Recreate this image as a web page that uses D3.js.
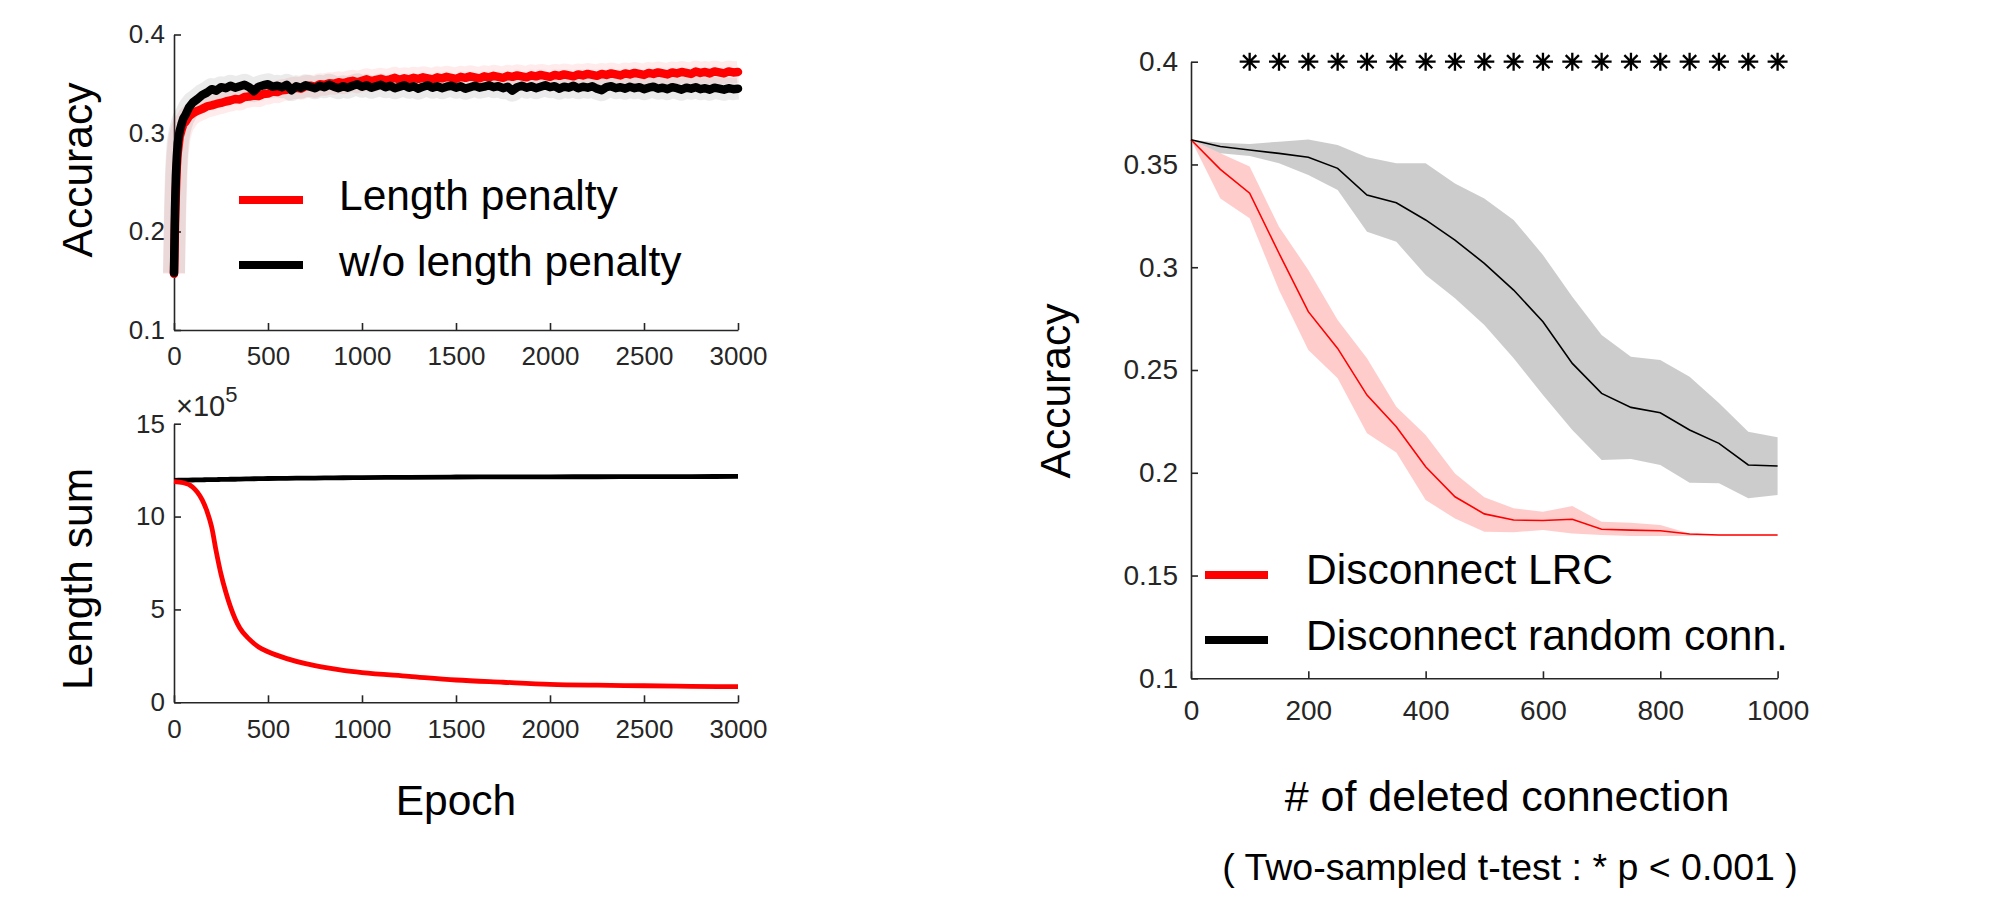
<!DOCTYPE html>
<html><head><meta charset="utf-8">
<script src="https://cdn.jsdelivr.net/npm/d3@7"></script>
<style>
body{margin:0;background:#fff}
text{font-family:"Liberation Sans",Arial,Helvetica,sans-serif}
</style>
</head><body>
<svg id="c" width="1996" height="900"></svg>
<script>
// ---------- Panel A (top-left): training accuracy ----------
const trainEpochs = [0,5,10,15,20,30,40,50,60,80,100,
 125,150,175,200,225,250,275,300,325,350,375,400,425,450,475,500,
 525,550,575,600,625,650,675,700,725,750,775,800,825,850,875,900,925,950,975,1000,
 1025,1050,1075,1100,1125,1150,1175,1200,1225,1250,1275,1300,1325,1350,1375,1400,1425,1450,1475,1500,
 1525,1550,1575,1600,1625,1650,1675,1700,1725,1750,1775,1800,1825,1850,1875,1900,1925,1950,1975,2000,
 2025,2050,2075,2100,2125,2150,2175,2200,2225,2250,2275,2300,2325,2350,2375,2400,2425,2450,2475,2500,
 2525,2550,2575,2600,2625,2650,2675,2700,2725,2750,2775,2800,2825,2850,2875,2900,2925,2950,2975,3000];
const accLengthPenalty = [0.157,0.205,0.240,0.266,0.280,0.296,0.303,0.309,0.311,0.317,0.320,
 0.3225,0.3245,0.3270,0.3280,0.3295,0.3305,0.3320,0.3330,0.3345,0.3340,0.3365,0.3370,0.3380,0.3375,0.3395,0.3400,
 0.3420,0.3415,0.3435,0.3440,0.3455,0.3460,0.3450,0.3475,0.3480,0.3470,0.3495,0.3490,0.3505,0.3500,0.3515,0.3505,0.3520,0.3530,0.3515,0.3530,
 0.3545,0.3525,0.3540,0.3550,0.3535,0.3545,0.3560,0.3540,0.3555,0.3545,0.3560,0.3550,0.3565,0.3555,0.3545,0.3565,0.3555,0.3570,0.3560,0.3550,
 0.3570,0.3560,0.3575,0.3565,0.3555,0.3575,0.3565,0.3580,0.3570,0.3560,0.3580,0.3570,0.3585,0.3575,0.3565,0.3585,0.3575,0.3590,0.3580,0.3570,
 0.3590,0.3580,0.3595,0.3585,0.3575,0.3595,0.3585,0.3600,0.3590,0.3580,0.3600,0.3590,0.3605,0.3595,0.3585,0.3605,0.3595,0.3610,0.3600,0.3590,
 0.3610,0.3600,0.3615,0.3605,0.3595,0.3615,0.3605,0.3620,0.3610,0.3600,0.3625,0.3610,0.3620,0.3605,0.3625,0.3615,0.3605,0.3625,0.3615,0.3620];
const accNoPenalty = [0.158,0.220,0.256,0.276,0.290,0.302,0.309,0.315,0.318,0.326,0.331,
 0.3345,0.3385,0.3410,0.3445,0.3430,0.3465,0.3455,0.3480,0.3460,0.3475,0.3490,0.3465,0.3425,0.3470,0.3485,0.3495,
 0.3470,0.3480,0.3465,0.3490,0.3435,0.3475,0.3460,0.3485,0.3470,0.3455,0.3480,0.3465,0.3490,0.3470,0.3455,0.3475,0.3460,0.3480,0.3495,0.3470,
 0.3485,0.3460,0.3475,0.3490,0.3465,0.3480,0.3455,0.3470,0.3485,0.3460,0.3475,0.3450,0.3470,0.3485,0.3460,0.3475,0.3455,0.3470,0.3480,0.3460,
 0.3475,0.3450,0.3465,0.3480,0.3460,0.3470,0.3485,0.3465,0.3475,0.3455,0.3470,0.3430,0.3465,0.3480,0.3460,0.3475,0.3455,0.3470,0.3485,0.3465,
 0.3475,0.3450,0.3470,0.3460,0.3480,0.3455,0.3470,0.3460,0.3475,0.3450,0.3435,0.3465,0.3475,0.3455,0.3465,0.3450,0.3470,0.3455,0.3465,0.3445,
 0.3460,0.3470,0.3450,0.3460,0.3445,0.3465,0.3455,0.3440,0.3460,0.3450,0.3465,0.3445,0.3455,0.3440,0.3460,0.3450,0.3440,0.3455,0.3445,0.3450];
const epochTicks = [0,500,1000,1500,2000,2500,3000];
const accTicksA = [0.1,0.2,0.3,0.4];
const legendA = ["Length penalty","w/o length penalty"];

// ---------- Panel B (bottom-left): length sum (x10^5) ----------
const lenEpochs = [0,50,100,125,150,175,200,225,250,275,300,325,350,400,450,500,600,700,800,900,1000,1250,1500,1750,2000,2250,2500,2750,3000];
const lenSumPenalty = [11.88,11.82,11.58,11.30,10.90,10.30,9.45,8.10,6.90,5.95,5.15,4.50,4.00,3.40,2.98,2.72,2.35,2.08,1.88,1.72,1.60,1.40,1.20,1.08,0.97,0.92,0.89,0.86,0.84];
const lenSumNoPenalty = [11.95,11.96,11.97,11.975,11.98,11.985,11.99,11.99,12.00,12.00,12.01,12.01,12.02,12.03,12.04,12.05,12.06,12.07,12.08,12.09,12.10,12.11,12.13,12.135,12.14,12.145,12.15,12.155,12.16];
const lenTicks = [0,5,10,15];

// ---------- Panel C (right): accuracy vs deleted connections ----------
const deleted = [0,50,100,150,200,250,300,350,400,450,500,550,600,650,700,750,800,850,900,950,1000];
const lrcMean = [0.362,0.3476,0.336,0.3068,0.2784,0.2605,0.2378,0.2224,0.2029,0.1883,0.180,0.177,0.1768,0.1774,0.1725,0.1721,0.1718,0.1702,0.1697,0.1697,0.1697];
const lrcHi   = [0.362,0.3554,0.349,0.3197,0.2987,0.2743,0.2557,0.2321,0.2184,0.1997,0.1881,0.1827,0.181,0.1838,0.1762,0.1757,0.1746,0.1705,0.1699,0.1699,0.1699];
const lrcLo   = [0.362,0.3335,0.3238,0.2889,0.2597,0.246,0.2192,0.2098,0.1867,0.1778,0.1713,0.171,0.1722,0.1705,0.1697,0.1692,0.1692,0.1692,0.1695,0.1695,0.1695];
const rndMean = [0.362,0.3587,0.357,0.3554,0.3535,0.3481,0.3351,0.3314,0.323,0.3132,0.3019,0.2889,0.2735,0.2532,0.2386,0.2318,0.2292,0.2208,0.2143,0.2038,0.2033];
const rndHi   = [0.362,0.3606,0.360,0.3611,0.3622,0.3595,0.3535,0.3506,0.3506,0.3408,0.3335,0.323,0.306,0.2857,0.267,0.2565,0.2549,0.2467,0.234,0.220,0.2173];
const rndLo   = [0.362,0.3554,0.3541,0.3506,0.3449,0.3376,0.3173,0.3124,0.2962,0.2849,0.2719,0.2557,0.2378,0.2208,0.2062,0.2067,0.2038,0.1952,0.1949,0.1876,0.1892];
const sigDeleted = [100,150,200,250,300,350,400,450,500,550,600,650,700,750,800,850,900,950,1000];
const sigLevel = 0.4;
const delTicks = [0,200,400,600,800,1000];
const accTicksC = [0.1,0.15,0.2,0.25,0.3,0.35,0.4];
const legendC = ["Disconnect LRC","Disconnect random conn."];

// ---------- drawing ----------
const svg = d3.select("#c");
const AX = "#262626";
const FONT = "'Liberation Sans',Arial,Helvetica,sans-serif";

function styleAxis(g, fs){
  g.select(".domain").attr("stroke", AX).attr("stroke-width", 1.6);
  g.selectAll(".tick line").attr("stroke", AX).attr("stroke-width", 1.6);
  g.selectAll(".tick text").attr("fill", AX).style("font-size", fs + "px").style("font-family", FONT);
}

// Panel A
{
  const x = d3.scaleLinear().domain([0,3000]).range([174,738]);
  const y = d3.scaleLinear().domain([0.1,0.4]).range([330,34.5]);
  const gx = svg.append("g").attr("transform","translate(0,330)")
    .call(d3.axisBottom(x).tickValues(epochTicks).tickFormat(d3.format("d")).tickSizeInner(-7).tickSizeOuter(0).tickPadding(17));
  styleAxis(gx, 26);
  const gy = svg.append("g").attr("transform","translate(174,0)")
    .call(d3.axisLeft(y).tickValues(accTicksA).tickFormat(d3.format(".1f")).tickSizeInner(-7).tickSizeOuter(0).tickPadding(9));
  styleAxis(gy, 26);

  const line = d3.line().x((d,i)=>x(trainEpochs[i])).y(d=>y(d)).curve(d3.curveLinear);
  const series = [[accLengthPenalty,"#ff0000"],[accNoPenalty,"#000000"]];
  series.forEach(([v,c])=>{
    svg.append("path").attr("d", line(v)).attr("fill","none").attr("stroke",c)
      .attr("stroke-opacity",0.08).attr("stroke-width",22).attr("stroke-linejoin","round");
  });
  series.forEach(([v,c])=>{
    svg.append("path").attr("d", line(v)).attr("fill","none").attr("stroke",c)
      .attr("stroke-width",8.5).attr("stroke-linejoin","round").attr("stroke-linecap","round");
  });

  // legend
  const lg = [[legendA[0],"#ff0000",200,210],[legendA[1],"#000000",265,276]];
  lg.forEach(([t,c,ly,ty])=>{
    svg.append("line").attr("x1",239).attr("x2",303).attr("y1",ly).attr("y2",ly).attr("stroke",c).attr("stroke-width",8);
    svg.append("text").attr("x",339).attr("y",ty).text(t).style("font-size","42.5px").attr("fill","#000");
  });
  svg.append("text").attr("transform","translate(92,170) rotate(-90)").attr("text-anchor","middle")
    .style("font-size","42.5px").attr("fill","#000").text("Accuracy");
}

// Panel B
{
  const x = d3.scaleLinear().domain([0,3000]).range([174,738]);
  const y = d3.scaleLinear().domain([0,15]).range([702.3,423.7]);
  const gx = svg.append("g").attr("transform","translate(0,702.3)")
    .call(d3.axisBottom(x).tickValues(epochTicks).tickFormat(d3.format("d")).tickSizeInner(-7).tickSizeOuter(0).tickPadding(17));
  styleAxis(gx, 26);
  const gy = svg.append("g").attr("transform","translate(174,0)")
    .call(d3.axisLeft(y).tickValues(lenTicks).tickFormat(d3.format("d")).tickSizeInner(-7).tickSizeOuter(0).tickPadding(9));
  styleAxis(gy, 26);

  const line = d3.line().x((d,i)=>x(lenEpochs[i])).y(d=>y(d)).curve(d3.curveMonotoneX);
  svg.append("path").attr("d", line(lenSumNoPenalty)).attr("fill","none").attr("stroke","#000").attr("stroke-width",4.8);
  svg.append("path").attr("d", line(lenSumPenalty)).attr("fill","none").attr("stroke","#ff0000").attr("stroke-width",4.8);

  const ex = svg.append("text").attr("x",176).attr("y",416).attr("fill",AX).style("font-size","29px");
  ex.append("tspan").text("\u00D710");
  ex.append("tspan").attr("dy",-14).style("font-size","22px").text("5");

  svg.append("text").attr("transform","translate(92,579) rotate(-90)").attr("text-anchor","middle")
    .style("font-size","42.5px").attr("fill","#000").text("Length sum");
  svg.append("text").attr("x",456).attr("y",815).attr("text-anchor","middle")
    .style("font-size","42.5px").attr("fill","#000").text("Epoch");
}

// Panel C
{
  const x = d3.scaleLinear().domain([0,1000]).range([1191,1777.6]);
  const y = d3.scaleLinear().domain([0.1,0.4]).range([678.3,61.7]);
  const gx = svg.append("g").attr("transform","translate(0,678.3)")
    .call(d3.axisBottom(x).tickValues(delTicks).tickFormat(d3.format("d")).tickSizeInner(-7).tickSizeOuter(0).tickPadding(22));
  styleAxis(gx, 28);
  const gy = svg.append("g").attr("transform","translate(1191,0)")
    .call(d3.axisLeft(y).tickValues(accTicksC).tickFormat(d=>String(+d.toFixed(2))).tickSizeInner(-7).tickSizeOuter(0).tickPadding(13));
  styleAxis(gy, 28);

  const area = (lo,hi)=>d3.area().x((d,i)=>x(deleted[i])).y0((d,i)=>y(lo[i])).y1((d,i)=>y(hi[i]))(deleted);
  const line = d3.line().x((d,i)=>x(deleted[i])).y(d=>y(d));
  svg.append("path").attr("d", area(lrcLo,lrcHi)).attr("fill","#ff0000").attr("fill-opacity",0.2);
  svg.append("path").attr("d", area(rndLo,rndHi)).attr("fill","#000").attr("fill-opacity",0.2);
  svg.append("path").attr("d", line(lrcMean)).attr("fill","none").attr("stroke","#ff0000").attr("stroke-width",1.6);
  svg.append("path").attr("d", line(rndMean)).attr("fill","none").attr("stroke","#000").attr("stroke-width",1.6);

  const star = "M0,-9V9M-10,0H10M-6.6,-6.6L6.6,6.6M-6.6,6.6L6.6,-6.6";
  svg.append("g").selectAll("path").data(sigDeleted).join("path")
    .attr("transform",d=>`translate(${x(d)},${y(sigLevel)})`)
    .attr("d",star).attr("stroke","#000").attr("stroke-width",2.3).attr("fill","none");

  const lg = [[legendC[0],"#ff0000",575,584],[legendC[1],"#000000",640,650]];
  lg.forEach(([t,c,ly,ty])=>{
    svg.append("line").attr("x1",1205).attr("x2",1268).attr("y1",ly).attr("y2",ly).attr("stroke",c).attr("stroke-width",8);
    svg.append("text").attr("x",1306).attr("y",ty).text(t).style("font-size","42.5px").attr("fill","#000");
  });

  svg.append("text").attr("transform","translate(1070,391) rotate(-90)").attr("text-anchor","middle")
    .style("font-size","42.5px").attr("fill","#000").text("Accuracy");
  svg.append("text").attr("x",1507).attr("y",811).attr("text-anchor","middle")
    .style("font-size","43px").attr("fill","#000").text("# of deleted connection");
  svg.append("text").attr("x",1510).attr("y",880).attr("text-anchor","middle")
    .style("font-size","37.5px").attr("fill","#000").text("( Two-sampled t-test : * p < 0.001 )");
}
</script>
</body></html>
